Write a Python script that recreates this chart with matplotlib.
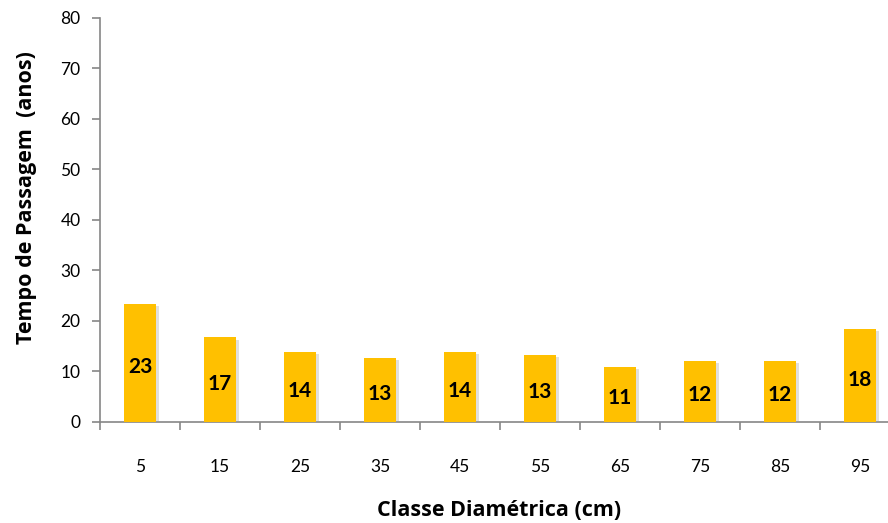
import matplotlib
matplotlib.use("Agg")
import matplotlib.pyplot as plt
import matplotlib.patheffects as pe
import numpy as np

# Diameter classes (cm) and passage time (years)
classes = ["5", "15", "25", "35", "45", "55", "65", "75", "85", "95"]
tempo = [23.4, 16.7, 13.9, 12.6, 13.9, 13.3, 10.9, 12.1, 12.1, 18.3]
y_ticks = [0, 10, 20, 30, 40, 50, 60, 70, 80]

plt.rcParams["font.family"] = ["Lato", "DejaVu Sans"]

W, H = 888, 523
fig = plt.figure(figsize=(W / 100, H / 100), dpi=100)
ax = fig.add_axes([100 / W, 1 - 421.7 / H, (888 - 100) / W, (421.7 - 18) / H])

axis_grey = "#868686"
x = np.arange(len(classes))
bars = ax.bar(x, tempo, width=0.4, color="#FFC000", zorder=3)
for b in bars:
    b.set_path_effects([pe.SimplePatchShadow(offset=(2, -1.5), shadow_rgbFace="#9a9a9a", alpha=0.3),
                        pe.Normal()])

for xi, v in zip(x, tempo):
    ax.annotate(f"{v:.0f}", (xi, v / 2), xytext=(0, -3), textcoords="offset points",
                ha="center", va="center", fontsize=15, fontweight="bold", color="black", zorder=4)

ax.set_ylim(0, 80)
ax.set_xlim(-0.5, 9.35)
ax.set_yticks(y_ticks)
ax.set_yticklabels([str(t) for t in y_ticks], fontsize=12.5)

# category labels centred, tick marks at category boundaries
ax.set_xticks(x)
ax.set_xticklabels(classes, fontsize=12.5)
ax.tick_params(axis="x", which="major", length=0, pad=27)
ax.set_xticks(np.arange(-0.5, 9.5, 1.0), minor=True)
ax.tick_params(axis="x", which="minor", length=6, width=1.2, color=axis_grey, direction="out")
ax.tick_params(axis="y", length=6, width=1.2, color=axis_grey, direction="out", pad=8)

for s in ["top", "right"]:
    ax.spines[s].set_visible(False)
for s in ["left", "bottom"]:
    ax.spines[s].set_color(axis_grey)
    ax.spines[s].set_linewidth(1.2)

title_font = ["Open Sans", "DejaVu Sans"]
fig.text(27 / W, 1 - 198 / H, "Tempo de Passagem  (anos)", rotation=90, ha="center", va="center",
         fontsize=15.5, fontweight="bold", family=title_font)
fig.text(499 / W, 1 - 511 / H, "Classe Diamétrica (cm)", ha="center", va="center",
         fontsize=15.5, fontweight="bold", family=title_font)

fig.savefig("out.png", dpi=100)
